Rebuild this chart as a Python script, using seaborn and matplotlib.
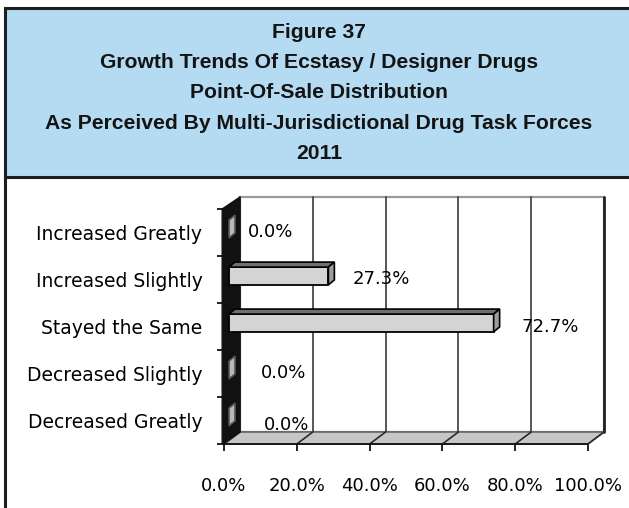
import matplotlib
matplotlib.use('Agg')
import matplotlib.pyplot as plt
import seaborn as sns
from matplotlib.patches import Polygon, Rectangle
from matplotlib.lines import Line2D
from matplotlib.transforms import ScaledTranslation

# ── data ────────────────────────────────────────────────────────────────
categories = ['Increased Greatly', 'Increased Slightly', 'Stayed the Same',
              'Decreased Slightly', 'Decreased Greatly']
percent = [0.0, 27.3, 72.7, 0.0, 0.0]
x_ticks = [0, 20, 40, 60, 80, 100]
title_lines = ['Figure 37',
               'Growth Trends Of Ecstasy / Designer Drugs',
               'Point-Of-Sale Distribution',
               'As Perceived By Multi-Jurisdictional Drug Task Forces',
               '2011']

# Excel-style label nudges (pixels right, pixels up) per row
label_nudge = [(47, 0), (58, 0), (62, 0), (60, 0), (63, -4)]

W, H = 629, 508
sns.set_style('white')
plt.rcParams['font.family'] = ['DejaVu Sans']

fig = plt.figure(figsize=(W / 100, H / 100), dpi=100)
fig.patch.set_facecolor('white')

# ── header box ──────────────────────────────────────────────────────────
fig.add_artist(Rectangle((5 / W, 1 - 177 / H), 1.0, (177 - 8) / H,
                         transform=fig.transFigure, facecolor='#b5dbf3',
                         edgecolor='#1e1e1e', lw=2.2))
fig.add_artist(Line2D([5 / W, 5 / W], [0, 1 - 177 / H], transform=fig.transFigure,
                      color='#1e1e1e', lw=2.2))
for k, line in enumerate(title_lines):
    fig.text(319 / W, 1 - (32 + 30.4 * k) / H, line, ha='center', va='center',
             fontsize=15.2, fontweight='bold', color='#141414',
             family='Liberation Sans')

# ── chart ───────────────────────────────────────────────────────────────
ax = fig.add_axes([224 / W, (H - 444) / H, 364 / W, 235 / H])
ax.patch.set_alpha(0)

sns.barplot(x=percent, y=categories, orient='h', color='#d4d4d4',
            edgecolor='black', linewidth=1.3, width=0.38, ax=ax, zorder=6)
ax.set_xlim(0, 100)
ax.set_ylim(4.5, -0.5)
for s in ax.spines.values():
    s.set_visible(False)

px_x = 364 / 100          # pixels per percent
px_y = 235 / 5            # pixels per category
DX, DY = 16 / px_x, 12 / px_y      # full depth of the 3-D box
bdx, bdy = 6 / px_x, 5 / px_y      # depth of a bar

y_top, y_bot = -0.5, 4.5

# back wall
ax.add_patch(Polygon([(DX, y_top - DY), (100 + DX, y_top - DY),
                      (100 + DX, y_bot - DY), (DX, y_bot - DY)],
                     closed=True, facecolor='white', edgecolor='#9a9a9a',
                     lw=1.6, clip_on=False, zorder=1))
for t in x_ticks:
    ax.plot([t + DX, t + DX], [y_top - DY, y_bot - DY],
            color='#3a3a3a' if t < 100 else '#222222', lw=1.2 if t < 100 else 2,
            clip_on=False, zorder=2)

# floor
ax.add_patch(Polygon([(0, y_bot), (100, y_bot), (100 + DX, y_bot - DY),
                      (DX, y_bot - DY)], closed=True, facecolor='#c6c6c6',
                     edgecolor='#555555', lw=1.0, clip_on=False, zorder=2))
for t in x_ticks:
    ax.plot([t, t + DX], [y_bot, y_bot - DY], color='#2a2a2a', lw=1.2,
            clip_on=False, zorder=3)
ax.plot([0, 100], [y_bot, y_bot], color='#111111', lw=1.3, clip_on=False, zorder=3)

# left wall
ax.add_patch(Polygon([(-0.5, y_top), (-0.5, y_bot), (DX, y_bot - DY),
                      (DX, y_top - DY)], closed=True, facecolor='#111111',
                     edgecolor='#111111', lw=1.0, clip_on=False, zorder=4))

# bars: shift to mid-depth and add top face and end cap
shift = ScaledTranslation(5 / 100, 3.5 / 100, fig.dpi_scale_trans)
tr = ax.transData + shift
for p in ax.patches[:]:
    if not isinstance(p, Rectangle) or p.get_height() == 0:
        continue
    p.set_transform(tr)
    x0, y0 = p.get_x(), p.get_y()
    x1, y1 = x0 + p.get_width(), y0 + p.get_height()
    top = Polygon([(x0, y0), (x1, y0), (x1 + bdx, y0 - bdy), (x0 + bdx, y0 - bdy)],
                  closed=True, facecolor='#6f6f6f', edgecolor='black', lw=1.2,
                  transform=tr, clip_on=False, zorder=7)
    cap = Polygon([(x1, y0), (x1, y1), (x1 + bdx, y1 - bdy), (x1 + bdx, y0 - bdy)],
                  closed=True, facecolor='#9c9c9c' if x1 > x0 else '#b8b8b8',
                  edgecolor='black' if x1 > x0 else '#555555', lw=1.2,
                  transform=tr, clip_on=False, zorder=7)
    ax.add_patch(top)
    ax.add_patch(cap)

# data labels
for i, v in enumerate(percent):
    nx, ny = label_nudge[i]
    ax.annotate(f'{v:.1f}%', xy=(v, i), xytext=(nx, ny), textcoords='offset pixels',
                ha='center', va='center', fontsize=13, color='black', zorder=9)

# axes ticks
ax.set_xticks(x_ticks)
ax.set_xticklabels([f'{t:.1f}%' for t in x_ticks])
ax.set_yticks(range(len(categories)))
ax.set_yticklabels(categories)
ax.set_yticks([k - 0.5 for k in range(len(categories) + 1)], minor=True)
ax.tick_params(axis='x', which='major', length=5, width=1.3, color='#111111',
               pad=19, labelsize=13, labelcolor='black', direction='out', bottom=True)
ax.tick_params(axis='y', which='major', length=0, pad=15.5, labelsize=13.5,
               labelcolor='black', left=True)
ax.tick_params(axis='y', which='minor', length=5, width=1.3, color='#111111',
               direction='out', left=True)
ax.set_xlabel('')
ax.set_ylabel('')

fig.savefig('out.png', dpi=100)
